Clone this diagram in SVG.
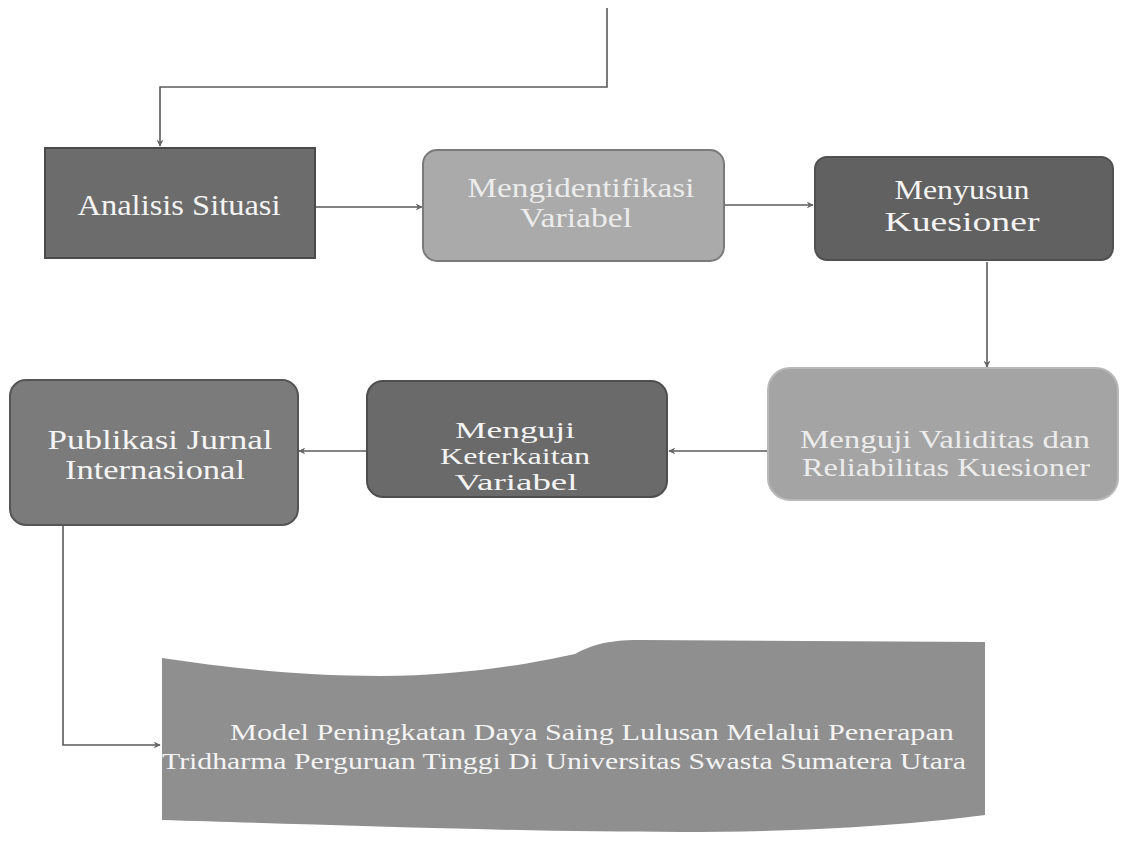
<svg xmlns="http://www.w3.org/2000/svg" width="1121" height="841" viewBox="0 0 1121 841">
  <defs>
    <marker id="arr" viewBox="0 0 10 10" refX="9" refY="5" markerWidth="7" markerHeight="7" orient="auto" markerUnits="userSpaceOnUse">
      <path d="M0,0 L10,5 L0,10 L3,5 Z" fill="#666"/>
    </marker>
    <style>
      .lbl { font-family: "Liberation Serif", "Times New Roman", serif; fill: #f4f4f4; text-anchor: middle; }
      .light { fill: #ececec; }
      .con { fill: none; stroke: #5a5a5a; stroke-width: 1.6; }
    </style>
  </defs>
  <rect width="1121" height="841" fill="#ffffff"/>

  <g id="connectors">
    <path class="con" d="M607,8 V87 H160 V146" marker-end="url(#arr)"/>
    <path class="con" d="M315,207 H422" marker-end="url(#arr)"/>
    <path class="con" d="M724,205 H813" marker-end="url(#arr)"/>
    <path class="con" d="M987,262 V367" marker-end="url(#arr)"/>
    <path class="con" d="M768,451 H669" marker-end="url(#arr)"/>
    <path class="con" d="M366,451 H299" marker-end="url(#arr)"/>
    <path class="con" d="M63,526 V745 H160" marker-end="url(#arr)"/>
  </g>

  <g id="analisis-situasi">
    <rect x="45" y="148" width="270" height="110" fill="#6c6c6c" stroke="#4a4a4a" stroke-width="2"/>
    <text class="lbl" font-size="30" x="179" y="215" textLength="203" lengthAdjust="spacingAndGlyphs">Analisis Situasi</text>
  </g>

  <g id="mengidentifikasi-variabel">
    <rect x="423" y="150" width="301" height="111" rx="14" fill="#aaaaaa" stroke="#7a7a7a" stroke-width="2"/>
    <text class="lbl light" font-size="27" x="581" y="197" textLength="227" lengthAdjust="spacingAndGlyphs">Mengidentifikasi</text>
    <text class="lbl light" font-size="27" x="576" y="227" textLength="112" lengthAdjust="spacingAndGlyphs">Variabel</text>
  </g>

  <g id="menyusun-kuesioner">
    <rect x="815" y="157" width="298" height="103" rx="12" fill="#616161" stroke="#505050" stroke-width="2"/>
    <text class="lbl" font-size="28" x="962" y="199" textLength="135" lengthAdjust="spacingAndGlyphs">Menyusun</text>
    <text class="lbl" font-size="28" x="962" y="231" textLength="155" lengthAdjust="spacingAndGlyphs">Kuesioner</text>
  </g>

  <g id="menguji-validitas">
    <rect x="768" y="368" width="350" height="132" rx="22" fill="#a4a4a4" stroke="#b8b8b8" stroke-width="2"/>
    <text class="lbl light" font-size="25" x="945" y="448" textLength="290" lengthAdjust="spacingAndGlyphs">Menguji Validitas dan</text>
    <text class="lbl light" font-size="25" x="946" y="476" textLength="288" lengthAdjust="spacingAndGlyphs">Reliabilitas Kuesioner</text>
  </g>

  <g id="menguji-keterkaitan">
    <rect x="367" y="381" width="300" height="116" rx="16" fill="#6a6a6a" stroke="#4e4e4e" stroke-width="2"/>
    <text class="lbl" font-size="23" x="515" y="438" textLength="120" lengthAdjust="spacingAndGlyphs">Menguji</text>
    <text class="lbl" font-size="23" x="515" y="464" textLength="150" lengthAdjust="spacingAndGlyphs">Keterkaitan</text>
    <text class="lbl" font-size="23" x="516" y="490" textLength="123" lengthAdjust="spacingAndGlyphs">Variabel</text>
  </g>

  <g id="publikasi-jurnal">
    <rect x="10" y="380" width="288" height="145" rx="16" fill="#7b7b7b" stroke="#555555" stroke-width="2"/>
    <text class="lbl" font-size="27" x="160" y="449" textLength="225" lengthAdjust="spacingAndGlyphs">Publikasi Jurnal</text>
    <text class="lbl" font-size="27" x="155" y="479" textLength="180" lengthAdjust="spacingAndGlyphs">Internasional</text>
  </g>

  <g id="model-peningkatan">
    <path d="M162,658 C230,668 300,676 380,676 C460,676 530,664 575,654 C590,646 605,640 640,640 L985,642 L985,815 C900,826 800,832 680,832 C520,832 300,824 162,820 Z" fill="#8f8f8f"/>
    <text class="lbl" font-size="24" x="592" y="740" textLength="724" lengthAdjust="spacingAndGlyphs">Model Peningkatan Daya Saing Lulusan Melalui Penerapan</text>
    <text class="lbl" font-size="24" x="564" y="769" textLength="804" lengthAdjust="spacingAndGlyphs">Tridharma Perguruan Tinggi Di Universitas Swasta Sumatera Utara</text>
  </g>
</svg>
